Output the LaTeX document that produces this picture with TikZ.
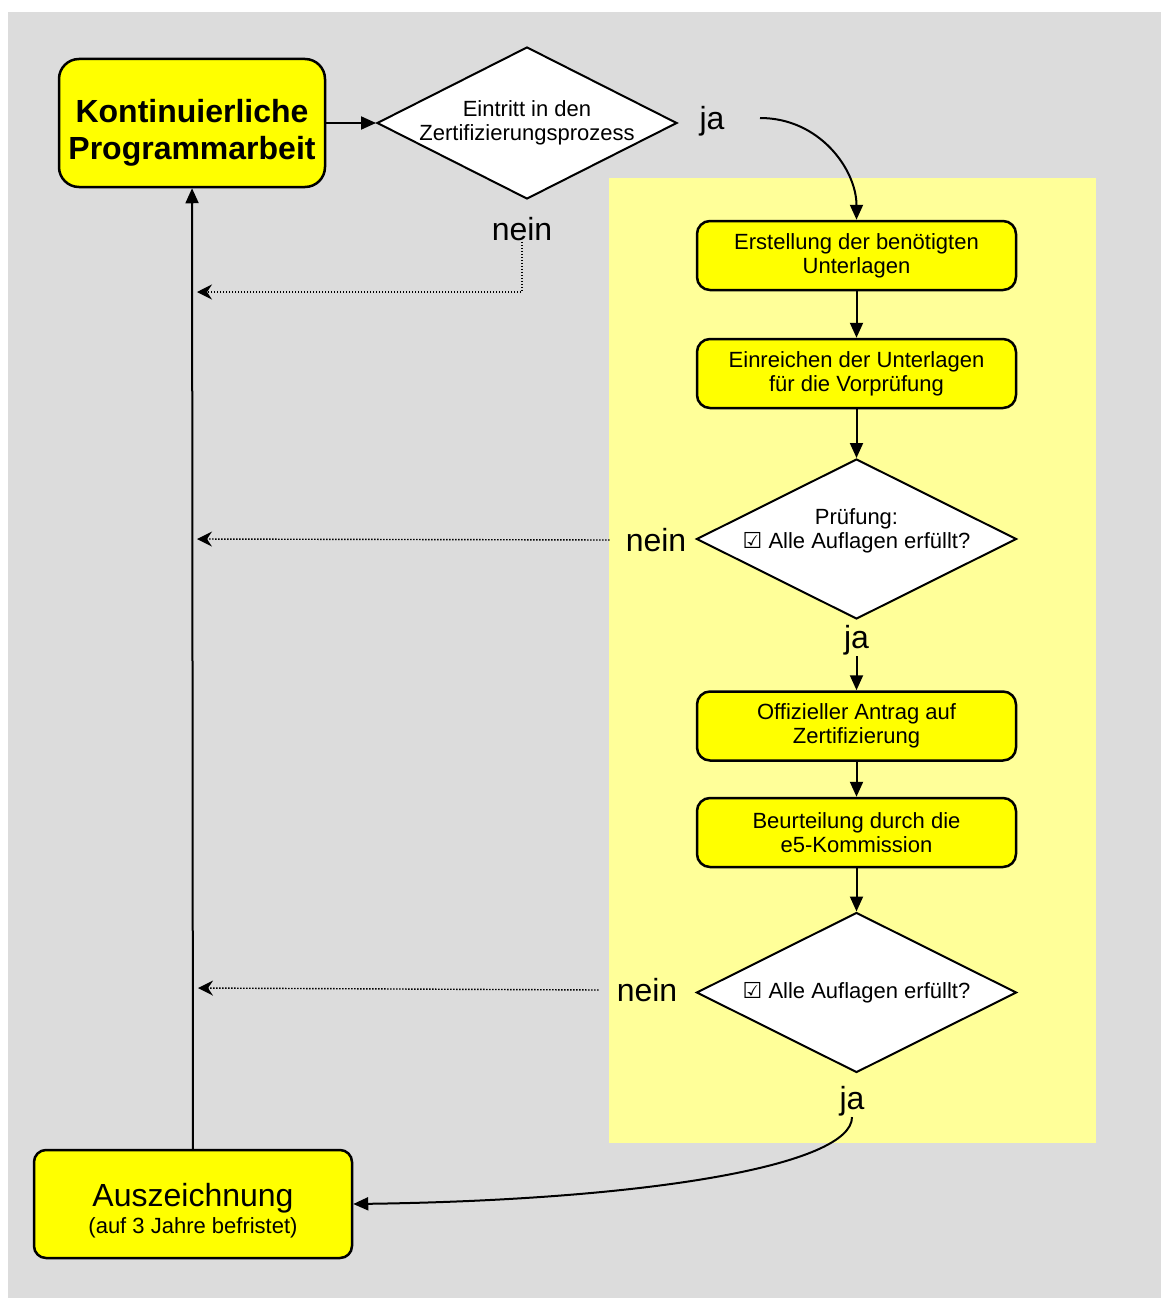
\documentclass[tikz,border=0pt]{standalone}
\usepackage{fontspec}
\setmainfont{Liberation Sans}
\newfontfamily\symfont{DejaVu Sans}
\usepackage{tikz}
\usetikzlibrary{shapes, positioning}
\usetikzlibrary{calc}
\usetikzlibrary{arrows.meta}
\definecolor{bggray}{RGB}{220,220,220}
\definecolor{paleyellow}{RGB}{255,255,153}
\definecolor{boxyellow}{RGB}{255,255,0}

\begin{document}
\begin{tikzpicture}[x=1pt, y=-1pt,
		box/.style={draw, line width=2.5pt, fill=boxyellow, rounded corners=13pt, align=center, minimum width=319pt, minimum height=69pt, inner sep=0pt, font=\fontsize{22}{24}\selectfont},
		decision/.style={draw, line width=2pt, fill=white, diamond, aspect=2, inner xsep=-30pt, inner ysep=0pt, align=center, font=\fontsize{22}{24}\selectfont},
		answer/.style={inner sep=1pt, font=\fontsize{32}{38}\selectfont},
		flow/.style={line width=2pt, -{Triangle[length=15pt,width=13pt]}},
		back/.style={line width=1.4pt, dash pattern=on 1.4pt off 1.6pt, -{Stealth[length=15pt,width=15pt,inset=5pt]}}]
		\useasboundingbox (0,0) rectangle (1161,1298);
		\fill[bggray] (8,12) rectangle (1161,1298);
		\fill[paleyellow] (609,178) rectangle (1096,1143);

		\node[box, minimum width=266pt, minimum height=128pt, rounded corners=20pt, font=\bfseries\fontsize{32}{37}\selectfont] (prog) at (192,123) {\rule{0pt}{43pt}Kontinuierliche\\Programmarbeit};
		\node[decision, minimum width=300pt, minimum height=152pt] (eintritt) at (527,123) {Eintritt in den\\Zertifizierungsprozess};

		\node[box] (erstell) at (856.5,255.5) {Erstellung der benötigten\\Unterlagen};
		\node[box] (einreich) at (856.5,373.5) {Einreichen der Unterlagen\\für die Vorprüfung};
		\node[decision, minimum width=320pt, minimum height=160pt] (pruef) at (856.5,539) {Prüfung:\\{\symfont ☑} Alle Auflagen erfüllt?\rule[-20pt]{0pt}{20pt}};
		\node[box] (antrag) at (856.5,726) {Offizieller Antrag auf\\Zertifizierung};
		\node[box] (beurteil) at (856.5,832.5) {Beurteilung durch die\\e5-Kommission};
		\node[decision, minimum width=320pt, minimum height=160pt] (kommission) at (856.5,992.5) {{\symfont ☑} Alle Auflagen erfüllt?};
		\node[box, minimum width=318pt, minimum height=108pt, rounded corners=12pt] (ausz) at (193,1204) {\rule{0pt}{36pt}{\fontsize{32}{34}\selectfont Auszeichnung}\\[3pt](auf 3 Jahre befristet)};

		\node[answer] (ja1) at (712,121) {ja};
		\node[answer] (nein1) at (522,229) {nein};
		\node[answer] (nein2) at (656,540) {nein};
		\node[answer] (ja2) at (856.5,640) {ja};
		\node[answer] (nein3) at (647,990) {nein};
		\node[answer] (ja3) at (852,1101) {ja};

		\coordinate (start1) at (760,118);
		\coordinate (ret1) at (197,292);
		\coordinate (ret2) at (197,539);
		\coordinate (ret3) at (198,988);

		\draw[flow] (prog.east) -- (eintritt.west);
		\draw[flow] (start1) .. controls (820,118) and (856.5,170) .. (erstell.north);
		\draw[flow] (erstell) -- (einreich);
		\draw[flow] (einreich) -- (pruef);
		\draw[flow] (ja2) -- (antrag);
		\draw[flow] (antrag) -- (beurteil);
		\draw[flow] (beurteil) -- (kommission);
		\draw[flow] (ja3.south) .. controls (852,1165) and (650,1200) .. (ausz.east);
		\draw[flow] (ausz) -- (prog);
		\draw[back] (nein1.south) |- (ret1);
		\draw[back] ([xshift=-15pt]nein2.west) -- (ret2);
		\draw[back] ([xshift=-17pt]nein3.west) -- (ret3);
	\end{tikzpicture}
\end{document}
